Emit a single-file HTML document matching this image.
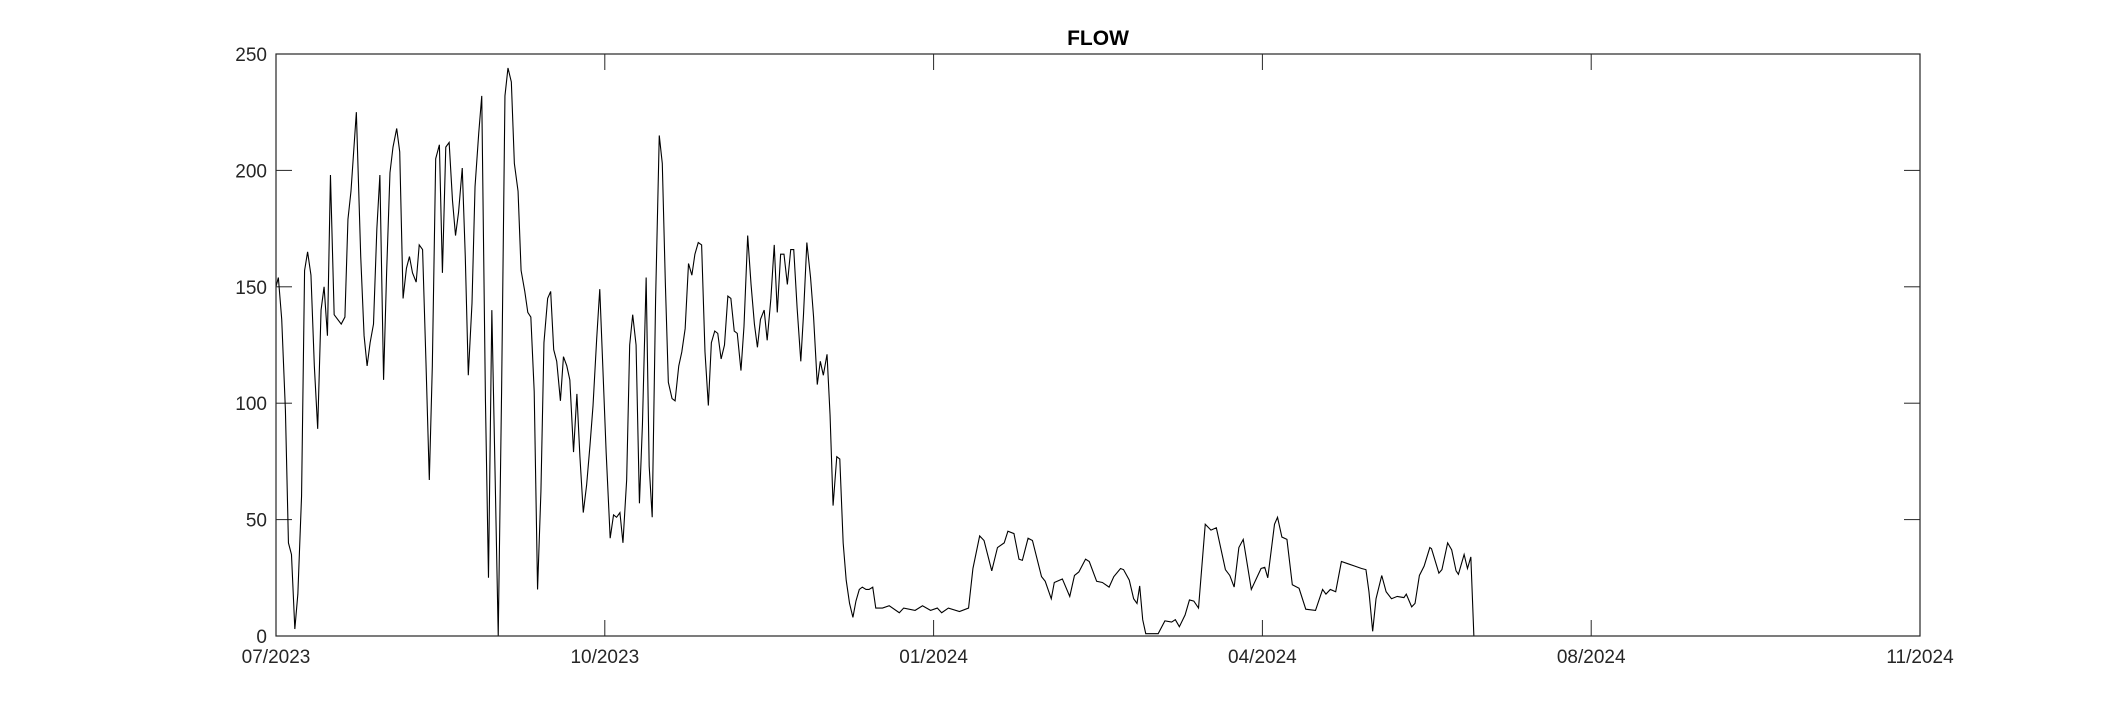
<!DOCTYPE html>
<html><head><meta charset="utf-8"><style>
html,body{margin:0;padding:0;background:#fff;}
svg{display:block;font-family:"Liberation Sans",Arial,sans-serif;}
</style></head><body>
<svg id="chart" width="2121" height="715" viewBox="0 0 2121 715" xmlns="http://www.w3.org/2000/svg">
<rect x="0" y="0" width="2121" height="715" fill="#fff"/>
<text x="1098" y="45" text-anchor="middle" font-size="21" font-weight="bold" fill="#000">FLOW</text>
<g id="grid"></g>
<path id="series" fill="none" stroke="#000" stroke-width="1.1"/>
<rect x="276" y="54" width="1644" height="582" fill="none" stroke="#262626" stroke-width="1.2"/>
</svg>
<script>
const days = [0,0.7,1.7,2.8,3.7,4.6,5.6,6.5,7.6,8.5,9.4,10.4,11.4,12.4,13.4,14.3,15.3,16.2,17.3,19.4,20.5,21.4,22.3,23.9,25.2,26.2,27.1,28.0,29.0,30.0,30.9,32.0,32.9,33.9,34.8,35.9,36.8,37.8,38.8,39.7,40.6,41.7,42.6,43.6,44.6,45.6,46.5,47.5,48.6,49.5,50.5,51.5,52.5,53.4,54.3,55.4,56.3,57.2,58.3,59.2,60.3,61.2,62.3,63.2,64.2,65.2,66.1,67.1,68.1,69.0,70.0,70.9,72.0,72.9,74.0,74.9,75.8,76.8,77.8,78.8,79.7,80.8,81.7,82.6,83.5,84.6,85.5,86.5,87.4,88.5,89.5,90.4,91.4,92.4,93.4,94.3,95.4,96.3,97.2,98.2,99.4,100.4,101.3,102.3,103.2,104.3,105.2,106.1,107.1,108.1,109.0,110.1,111.0,111.9,112.9,114.0,114.9,115.8,116.7,117.8,118.7,119.8,120.7,121.7,122.7,123.7,124.6,125.6,126.6,127.6,128.6,129.5,130.5,131.4,132.4,133.4,134.4,135.3,136.3,137.2,138.3,139.2,140.3,141.3,142.3,143.2,144.1,145.2,146.1,147.2,148.2,149.1,150.1,151.1,152.1,153.1,154.0,155.0,156.1,156.9,157.9,159.0,159.9,161.0,161.9,162.8,163.9,164.8,165.7,166.8,167.7,168.7,169.6,170.6,171.6,172.5,173.5,174.4,175.5,176.4,177.5,178.4,180.4,182.4,185.4,186.7,190.1,192.3,194.7,196.7,198.0,200,203.3,206,207.3,209.3,210.6,212.9,214.6,216.6,217.7,219.5,221,222,223.7,225,227.7,228.8,230.6,231.5,233.9,236.1,237.5,238.8,240.8,241.9,244.1,245.8,247.8,249.2,251.2,252.1,253.8,255.1,256.1,256.9,257.8,258.7,262.4,264.4,266.4,267.5,268.7,270.4,271.7,273,274.4,276.4,278.1,279.7,282.4,283.7,285,286.4,287.7,290.1,293,294.1,295,297,297.9,299.2,300.7,302.3,304.3,306.3,309.2,311.3,312.3,313.6,315.2,316.9,318.9,320.9,322.9,324.2,325.1,326.2,327.2,328.9,330.2,331.8,333.5,335.5,336.2,337.8,338.8,340.1,341.5,343.2,343.7,345.9,346.8,348.5,349.7,351,351.7,353.4,354.4,355.4,356.3,489];
const flow = [150,154,136,97,40,35,3,18,60,157,165,155,116,89,140,150,129,198,138,134,137,179,191,225,163,129,116,126,134,175,198,110,156,199,210,218,208,145,158,163,156,152,168,166,118,67,116,205,211,156,210,212,187,172,182,201,163,112,143,193,216,232,101,25,140,67,0,105,232,244,238,203,191,157,148,139,137,105,20,62,126,145,148,123,118,101,120,116,110,79,104,77,53,65,82,99,128,149,116,79,42,52,51,53,40,67,125,138,125,57,91,154,73,51,144,215,203,152,109,102,101,116,122,132,160,155,164,169,168,122,99,126,131,130,119,125,146,145,131,130,114,133,172,151,134,124,136,140,127,145,168,139,164,164,151,166,166,141,118,138,169,154,137,108,118,112,121,95,56,77,76,40,24,14,8,15,20,21,20,20,21,12,12,13,10,12,11,13,11,12,10,12,10.5,12,29,43,41,28,38,40,45,44,33,32.5,42,41,25.5,23.5,16,23,24.5,17,26,27.5,33,32,23.5,23,21,25.5,29,28.5,24,16,14,21.5,7,1,1,6.5,6,7,4,9,15.5,15,12,48,45.5,46.5,28.5,26,21,38,41.5,20,29,29.5,25,48,51,42.5,41.5,22,20.5,11.5,11,20,18,20,19,32,31,30,29,28.5,19,2,16,26,19,16,17,16.5,18,12.5,14,26,30,38,37.5,27,28.5,40,37,28,26.5,35,29,34,0,0];
const yTicks = [0,50,100,150,200,250];
const xTickDays = [0,97.8,195.6,293.4,391.2,489];
const xTickLabels = ["07/2023","10/2023","01/2024","04/2024","08/2024","11/2024"];

const L=276,R=1920,T=54,B=636,XMAX=489,YMAX=250;
function xs(d){return L+(d/XMAX)*(R-L);}
function ys(v){return B-(v/YMAX)*(B-T);}
const NS="http://www.w3.org/2000/svg";
const g=document.getElementById('grid');
function mk(tag,attrs){const e=document.createElementNS(NS,tag);for(const k in attrs)e.setAttribute(k,attrs[k]);return e;}
yTicks.forEach(v=>{
  const y=ys(v);
  const t1=mk('line',{x1:L,x2:L+16,y1:y,y2:y,stroke:'#262626','stroke-width':1});
  
  
  g.appendChild(t1);
  const t2=mk('line',{x1:R-16,x2:R,y1:y,y2:y,stroke:'#262626','stroke-width':1});
  
  
  g.appendChild(t2);
  const tx=mk('text',{x:L-9,y:y+7,'text-anchor':'end','font-size':19,fill:'#262626'});
  
  
  tx.textContent=v;g.appendChild(tx);
});
xTickDays.forEach((d,i)=>{
  const x=xs(d);
  const t1=mk('line',{x1:x,x2:x,y1:B,y2:B-16,stroke:'#262626','stroke-width':1});
  
  
  g.appendChild(t1);
  const t2=mk('line',{x1:x,x2:x,y1:T,y2:T+16,stroke:'#262626','stroke-width':1});
  
  
  g.appendChild(t2);
  const tx=mk('text',{x:x,y:B+27,'text-anchor':'middle','font-size':19,fill:'#262626'});
  
  
  tx.textContent=xTickLabels[i];g.appendChild(tx);
});
let d='';
days.forEach((dd,i)=>{d+=(i?'L':'M')+xs(dd).toFixed(2)+' '+ys(flow[i]).toFixed(2);});
document.getElementById('series').setAttribute('d',d);
</script>
</body></html>
